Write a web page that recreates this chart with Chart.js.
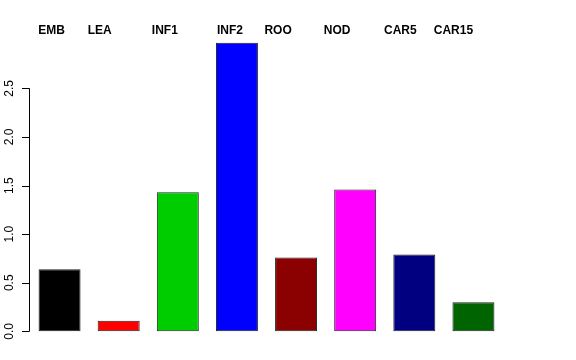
<!DOCTYPE html>
<html>
<head>
<meta charset="utf-8">
<script src="https://cdn.jsdelivr.net/npm/chart.js@4/dist/chart.umd.min.js"></script>
<style>
  html, body { margin: 0; padding: 0; background: #fff; }
  #wrap { width: 576px; height: 360px; }
</style>
</head>
<body>
<div id="wrap"><canvas id="chartBar"></canvas></div>
<script>
// data
const categories = ['EMB', 'LEA', 'INF1', 'INF2', 'ROO', 'NOD', 'CAR5', 'CAR15'];
const values = [0.64, 0.11, 1.43, 2.97, 0.76, 1.46, 0.79, 0.30];
const barColors = ['#000000', '#ff0000', '#00cd00', '#0000ff', '#8b0000', '#ff00ff', '#000080', '#006400'];
const yTicks = [0, 0.5, 1, 1.5, 2, 2.5];

// the names on top sit a little left of their bars, not evenly
const LABEL_NUDGE = [-8, -19, -13, -7, -18, -18, -14, -20];
const FONT = 'Liberation Sans, Arial, Helvetica, sans-serif';

// R-style axis: line only between first and last tick, rotated labels
const rAxis = {
    id: 'rAxis',
    afterDraw(chart) {
        const ctx = chart.ctx;
        const y = chart.scales.y;
        const x = chart.scales.x;
        const left = chart.chartArea.left;

        ctx.save();
        ctx.strokeStyle = '#000';
        ctx.lineWidth = 1;
        ctx.beginPath();
        ctx.moveTo(left - 0.5, y.getPixelForValue(yTicks[0]));
        ctx.lineTo(left - 0.5, y.getPixelForValue(yTicks[yTicks.length - 1]));
        yTicks.forEach((t) => {
            const py = Math.round(y.getPixelForValue(t)) + 0.5;
            ctx.moveTo(left - 0.5, py);
            ctx.lineTo(left - 8, py);
        });
        ctx.stroke();

        ctx.fillStyle = '#000';
        ctx.font = '12px ' + FONT;
        ctx.textAlign = 'center';
        ctx.textBaseline = 'middle';
        yTicks.forEach((t) => {
            const py = y.getPixelForValue(t);
            ctx.save();
            ctx.translate(left - 20, py);
            ctx.rotate(-Math.PI / 2);
            ctx.fillText(t.toFixed(1), 0, 0);
            ctx.restore();
        });

        // category names across the top
        ctx.font = 'bold 12px ' + FONT;
        ctx.textBaseline = 'alphabetic';
        categories.forEach((c, i) => {
            ctx.fillText(c, x.getPixelForValue(i) + LABEL_NUDGE[i], 34);
        });
        ctx.restore();
    }
};

const _config = {
    type: 'bar',
    data: {
        labels: categories,
        datasets: [{
            data: values,
            backgroundColor: barColors,
            borderColor: '#222',
            borderWidth: 1,
            borderSkipped: false,
            barPercentage: 0.71,
            categoryPercentage: 1
        }]
    },
    options: {
        responsive: false,
        animation: false,
        layout: {
            padding: { left: 30, right: 73, top: 31, bottom: 17 }
        },
        plugins: {
            legend: { display: false },
            tooltip: { enabled: false }
        },
        scales: {
            x: { display: false },
            y: { display: false, min: -0.12, max: 3.09 }
        }
    },
    plugins: [rAxis]
};

const canvas = document.getElementById('chartBar');
canvas.width = 576;
canvas.height = 360;
new Chart(canvas, _config);
</script>
</body>
</html>
